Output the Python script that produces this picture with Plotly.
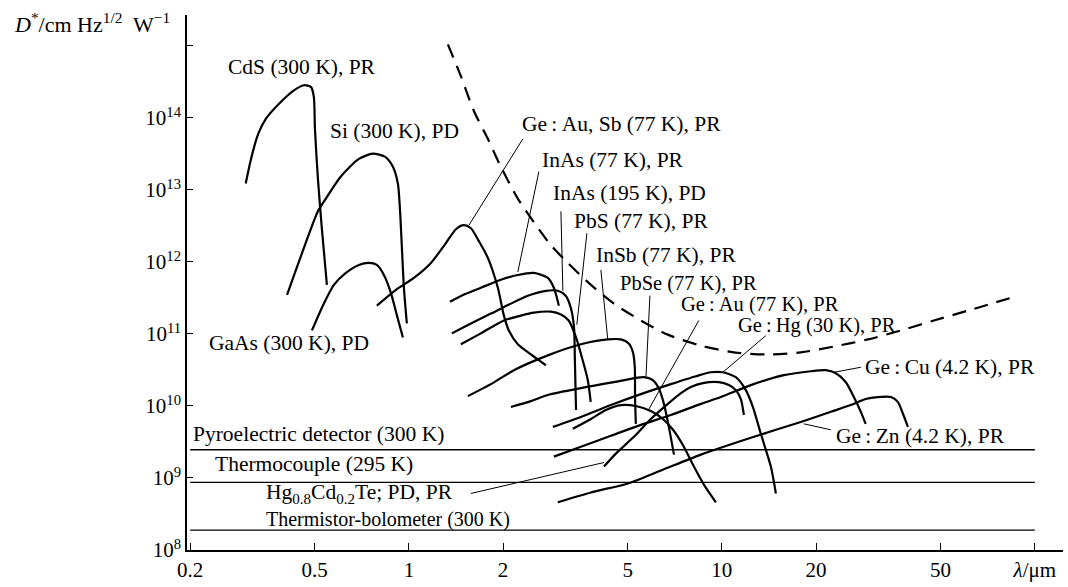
import math
import plotly.graph_objects as go

# ---------------- data (lambda in um, D* in cm Hz^1/2 W^-1) ----------------
cds_lam = [0.301, 0.313, 0.330, 0.349, 0.384, 0.426, 0.462, 0.487, 0.497, 0.501, 0.512, 0.527, 0.547]
cds_d = [1.23e13, 2.7e13, 6.0e13, 9.7e13, 1.56e14, 2.36e14, 2.85e14, 2.68e14, 1.95e14, 7.0e13, 1.44e13, 2.94e12, 4.8e11]

si_lam = [0.408, 0.452, 0.512, 0.543, 0.606, 0.692, 0.767, 0.838, 0.889, 0.922, 0.936, 0.950, 0.964, 0.985]
si_d = [3.5e11, 1.21e12, 5.05e12, 7.6e12, 1.54e13, 2.7e13, 3.19e13, 2.9e13, 2.1e13, 1.23e13, 5.56e12, 1.56e12, 4.38e11, 1.40e11]

gaas_lam = [0.490, 0.531, 0.576, 0.629, 0.692, 0.745, 0.790, 0.832, 0.876, 0.916, 0.957]
gaas_d = [1.12e11, 2.47e11, 4.8e11, 7.05e11, 9.1e11, 9.7e11, 9.1e11, 6.6e11, 3.73e11, 1.8e11, 8.95e10]

geausb_lam = [0.790, 0.909, 1.037, 1.176, 1.313, 1.413, 1.499, 1.578, 1.673, 1.788, 1.924, 2.012, 2.086, 2.229, 2.453, 2.740]
geausb_d = [2.47e11, 4.1e11, 6.0e11, 9.7e11, 1.83e12, 2.85e12, 3.24e12, 2.94e12, 1.95e12, 1.14e12, 4.38e11, 1.8e11, 1.12e11, 7.2e10, 5.2e10, 3.68e10]

inas77_lam = [1.352, 1.521, 1.698, 1.967, 2.229, 2.508, 2.780, 2.905, 2.970, 3.015]
inas77_d = [2.81e11, 3.62e11, 4.38e11, 5.65e11, 6.6e11, 7.05e11, 6.0e11, 4.38e11, 3.19e11, 2.47e11]

inas195_lam = [1.372, 1.578, 1.828, 2.118, 2.40, 2.74, 2.99, 3.17, 3.29, 3.37, 3.39, 3.42]
inas195_d = [1.02e11, 1.40e11, 1.92e11, 2.64e11, 3.40e11, 3.98e11, 3.98e11, 3.40e11, 2.32e11, 1.23e11, 4.74e10, 8.8e9]

pbs_lam = [1.466, 1.698, 2.012, 2.278, 2.508, 2.843, 3.06, 3.24, 3.42, 3.57, 3.73, 3.81]
pbs_d = [7.2e10, 1.02e11, 1.54e11, 1.8e11, 1.98e11, 2.04e11, 1.86e11, 1.54e11, 8.95e10, 4.74e10, 2.28e10, 1.14e10]

insb_lam = [1.543, 1.828, 2.165, 2.78, 3.545, 4.32, 4.76, 5.04, 5.20, 5.27, 5.28, 5.31]
insb_d = [1.37e10, 2.01e10, 3.14e10, 5.05e10, 7.2e10, 8.4e10, 8.4e10, 7.4e10, 5.56e10, 3.45e10, 1.33e10, 5.65e9]

pbse_lam = [2.118, 2.453, 2.78, 3.545, 4.52, 5.63, 6.02, 6.30, 6.53, 6.77, 7.03]
pbse_d = [9.7e9, 1.17e10, 1.42e10, 1.77e10, 2.14e10, 2.51e10, 2.28e10, 1.72e10, 1.07e10, 5.13e9, 2.11e9]

geau77_lam = [3.34, 3.816, 4.26, 4.76, 5.31, 5.93, 6.48, 6.98, 7.56, 8.14, 8.76, 9.57]
geau77_d = [4.82e9, 6.6e9, 8.8e9, 1.03e10, 1.0e10, 8.5e9, 6.6e9, 4.67e9, 2.72e9, 1.44e9, 8.1e8, 4.6e8]

gehg_lam = [2.884, 3.545, 4.42, 5.51, 6.87, 8.26, 9.22, 10.07, 11.08, 11.93, 12.56, 13.32, 14.34, 14.88]
gehg_d = [5.13e9, 7.05e9, 1.03e10, 1.46e10, 2.01e10, 2.59e10, 2.94e10, 2.94e10, 2.51e10, 1.66e10, 9.7e9, 4.11e9, 1.44e9, 6.1e8]

hgcdte_lam = [4.20, 4.585, 5.235, 5.93, 6.72, 7.40, 7.96, 8.70, 9.78, 10.53, 11.08, 11.50, 11.76]
hgcdte_d = [1.44e9, 2.18e9, 3.73e9, 6.6e9, 1.07e10, 1.51e10, 1.83e10, 2.08e10, 2.14e10, 1.95e10, 1.66e10, 1.25e10, 7.5e9]

gecu_lam = [2.906, 3.545, 4.42, 5.51, 6.87, 8.57, 9.93, 12.38, 15.78, 19.25, 21.49, 23.13, 24.9, 26.41, 27.8, 28.8]
gecu_d = [1.98e9, 2.72e9, 3.86e9, 5.47e9, 7.5e9, 1.07e10, 1.33e10, 1.95e10, 2.68e10, 3.04e10, 3.14e10, 2.85e10, 2.14e10, 1.33e10, 8.3e9, 5.65e9]

gezn_lam = [2.99, 3.816, 5.01, 6.39, 8.57, 12.38, 17.88, 22.3, 25.8, 28.8, 31.5, 34.7, 36.5, 37.9, 39.3]
gezn_d = [4.6e8, 6.3e8, 8.4e8, 1.27e9, 2.11e9, 3.62e9, 6.0e9, 8.3e9, 1.03e10, 1.25e10, 1.33e10, 1.33e10, 1.14e10, 7.8e9, 5.13e9]

limit_lam = [1.332, 1.466, 1.613, 1.788, 1.967, 2.229, 2.508, 2.842, 3.22, 3.816, 4.52, 5.51, 6.72, 8.57,
             10.92, 14.03, 17.88, 22.8, 29.3, 37.3, 47.6, 61.1, 88.3]
limit_d = [1.05e15, 3.8e14, 1.25e14, 5.13e13, 2.1e13, 7.6e12, 3.56e12, 1.71e12, 9.7e11, 4.8e11, 2.64e11, 1.54e11,
           9.8e10, 6.9e10, 5.56e10, 5.2e10, 5.56e10, 6.7e10, 8.4e10, 1.12e11, 1.54e11, 2.11e11, 3.40e11]

# horizontal (wavelength-independent) detectors
flat_names = ["Pyroelectric detector (300 K)", "Thermocouple (295 K)", "Thermistor-bolometer (300 K)"]
flat_d = [2.47e9, 8.7e8, 1.89e8]
flat_lam = [0.2, 100]

# labels: text, lambda at left edge, D* at centre, font size
labels = [
    ("CdS (300 K), PR", 0.260, 5.05e14, 21.5),
    ("Si (300 K), PD", 0.551, 6.6e13, 21.5),
    ("GaAs (300 K), PD", 0.226, 7.4e10, 21.5),
    ("Ge\u2009:\u2009Au, Sb (77 K), PR", 2.263, 8.3e13, 21.5),
    ("InAs (77 K), PR", 2.621, 2.64e13, 21.5),
    ("InAs (195 K), PD", 2.842, 8.96e12, 21.5),
    ("PbS (77 K), PR", 3.317, 3.68e12, 21.5),
    ("InSb (77 K), PR", 3.90, 1.25e12, 21.5),
    ("PbSe (77 K), PR", 4.65, 5.1e11, 20.5),
    ("Ge\u2009:\u2009Au (77 K), PR", 7.29, 2.55e11, 20.5),
    ("Ge\u2009:\u2009Hg (30 K), PR", 11.08, 1.3e11, 20.5),
    ("Ge\u2009:\u2009Cu (4.2 K), PR", 28.2, 3.45e10, 21.5),
    ("Ge\u2009:\u2009Zn (4.2 K), PR", 22.8, 3.86e9, 21.5),
    ("Pyroelectric detector (300 K)", 0.201, 4.1e9, 21.5),
    ("Thermocouple (295 K)", 0.2365, 1.58e9, 21.5),
    ("Hg<sub>0.8</sub>Cd<sub>0.2</sub>Te; PD, PR", 0.344, 6.1e8, 21.5),
    ("Thermistor-bolometer (300 K)", 0.344, 2.68e8, 20),
]

# leader lines: (lam1, d1, lam2, d2)
leaders = [
    (1.555, 3.24e12, 2.313, 5.13e13),
    (2.229, 7.28e11, 2.602, 1.8e13),
    (3.06, 5.05e12, 3.105, 3.98e11),
    (3.705, 2.51e12, 3.44, 1.35e11),
    (4.106, 7.76e11, 4.32, 8.4e10),
    (5.89, 3.40e11, 5.72, 2.51e10),
    (8.44, 1.54e11, 5.85, 9.1e9),
    (13.82, 9.5e10, 10.07, 2.94e10),
    (22.8, 2.94e10, 27.8, 3.45e10),
    (18.28, 5.65e9, 22.3, 4.67e9),
    (1.578, 6.1e8, 4.20, 1.64e9),
]

x_ticks = [0.2, 0.5, 1, 2, 5, 10, 20, 50, 100]
x_ticktext = ["0.2", "0.5", "1", "2", "5", "10", "20", "50", "<i>λ</i>/μm"]
y_ticks = [1e8, 1e9, 1e10, 1e11, 1e12, 1e13, 1e14, 1e15]
y_ticktext = ["10<sup>8</sup>", "10<sup>9</sup>", "10<sup>10</sup>", "10<sup>11</sup>",
              "10<sup>12</sup>", "10<sup>13</sup>", "10<sup>14</sup>", ""]

# ---------------- figure ----------------
FONT = "Liberation Serif"
fig = go.Figure()

curves = [(cds_lam, cds_d), (si_lam, si_d), (gaas_lam, gaas_d), (geausb_lam, geausb_d),
          (inas77_lam, inas77_d), (inas195_lam, inas195_d), (pbs_lam, pbs_d), (insb_lam, insb_d),
          (pbse_lam, pbse_d), (geau77_lam, geau77_d), (gehg_lam, gehg_d), (hgcdte_lam, hgcdte_d),
          (gecu_lam, gecu_d), (gezn_lam, gezn_d)]
for lam, d in curves:
    fig.add_trace(go.Scatter(x=lam, y=d, mode="lines",
                             line=dict(color="black", width=2.2, shape="spline", smoothing=0.7),
                             hoverinfo="skip", showlegend=False))

fig.add_trace(go.Scatter(x=limit_lam, y=limit_d, mode="lines",
                         line=dict(color="black", width=2.2, dash="14px,9px", shape="spline", smoothing=0.8),
                         hoverinfo="skip", showlegend=False))

for d in flat_d:
    fig.add_trace(go.Scatter(x=flat_lam, y=[d, d], mode="lines",
                             line=dict(color="black", width=1.4),
                             hoverinfo="skip", showlegend=False))

for l1, d1, l2, d2 in leaders:
    fig.add_trace(go.Scatter(x=[l1, l2], y=[d1, d2], mode="lines",
                             line=dict(color="black", width=1),
                             hoverinfo="skip", showlegend=False))

for text, lam, d, size in labels:
    fig.add_annotation(x=math.log10(lam), y=math.log10(d), text=text, showarrow=False,
                       xanchor="left", yanchor="middle", font=dict(family=FONT, size=size, color="black"))

fig.add_annotation(xref="paper", yref="paper", x=-0.017, y=0.985, xanchor="right", yanchor="middle",
                   text="<i>D</i><sup>*</sup>/cm Hz<sup>1/2</sup>  W<sup>−1</sup>", showarrow=False,
                   font=dict(family=FONT, size=22, color="black"))

fig.update_layout(
    width=1068, height=587,
    margin=dict(l=187, r=5, t=15, b=33),
    paper_bgcolor="white", plot_bgcolor="white",
    font=dict(family=FONT, size=21, color="black"),
    xaxis=dict(type="log", range=[-0.709, 2.09], tickvals=x_ticks, ticktext=x_ticktext,
               showgrid=False, zeroline=False, showline=True, linecolor="black", linewidth=1.5,
               ticks="inside", ticklen=7, tickwidth=1.3, tickcolor="black",
               tickfont=dict(family=FONT, size=21)),
    yaxis=dict(type="log", range=[8.0, 15.43], tickvals=y_ticks, ticktext=y_ticktext,
               showgrid=False, zeroline=False, showline=True, linecolor="black", linewidth=1.5,
               ticks="inside", ticklen=6, tickwidth=1.3, tickcolor="black",
               tickfont=dict(family=FONT, size=21)),
)

fig.write_html("out.html", config={"displayModeBar": False},
               post_script="document.body.style.margin='0';document.body.style.padding='0';")
